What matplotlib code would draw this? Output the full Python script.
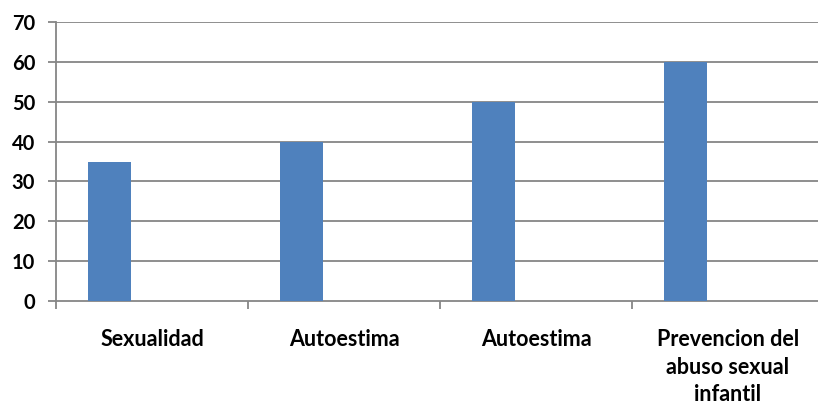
import matplotlib
matplotlib.use("Agg")
import matplotlib.pyplot as plt
import numpy as np

categories = ["Sexualidad", "Autoestima", "Autoestima", "Prevencion del\nabuso sexual\ninfantil"]
values = [35, 40, 50, 60]
y_ticks = [0, 10, 20, 30, 40, 50, 60, 70]

bar_color = "#4F81BD"
grid_color = "#868686"

plt.rcParams["font.family"] = ["Lato", "DejaVu Sans"]

fig = plt.figure(figsize=(8.18, 4.05), dpi=100)
ax = fig.add_axes([56 / 818, 1 - 301 / 405, 768 / 818, 279 / 405])

# bars sit in the left part of each category slot (Excel style)
x = np.arange(len(categories))
ax.bar(x + 0.279, values, width=0.224, color=bar_color, zorder=3)

ax.set_xlim(0, len(categories))
ax.set_ylim(0, 70)

# horizontal gridlines
for y in y_ticks[1:]:
    ax.axhline(y, color=grid_color, linewidth=1.3, zorder=1)

for side in ["top", "right"]:
    ax.spines[side].set_visible(False)
for side in ["left", "bottom"]:
    ax.spines[side].set_color(grid_color)
    ax.spines[side].set_linewidth(1.3)

ax.set_yticks(y_ticks)
ax.set_yticklabels([str(v) for v in y_ticks], fontsize=14.5, fontweight="bold")
ax.tick_params(axis="y", length=6, width=1.3, color=grid_color, pad=9)

ax.set_xticks(x + 0.5)
ax.set_xticklabels(categories, fontsize=15.5, fontweight="bold", linespacing=1.4)
ax.set_xticks(np.arange(len(categories) + 1), minor=True)
ax.tick_params(axis="x", which="major", length=0, pad=20)
ax.tick_params(axis="x", which="minor", length=6, width=1.3, color=grid_color)

fig.savefig("out.png", dpi=100)
